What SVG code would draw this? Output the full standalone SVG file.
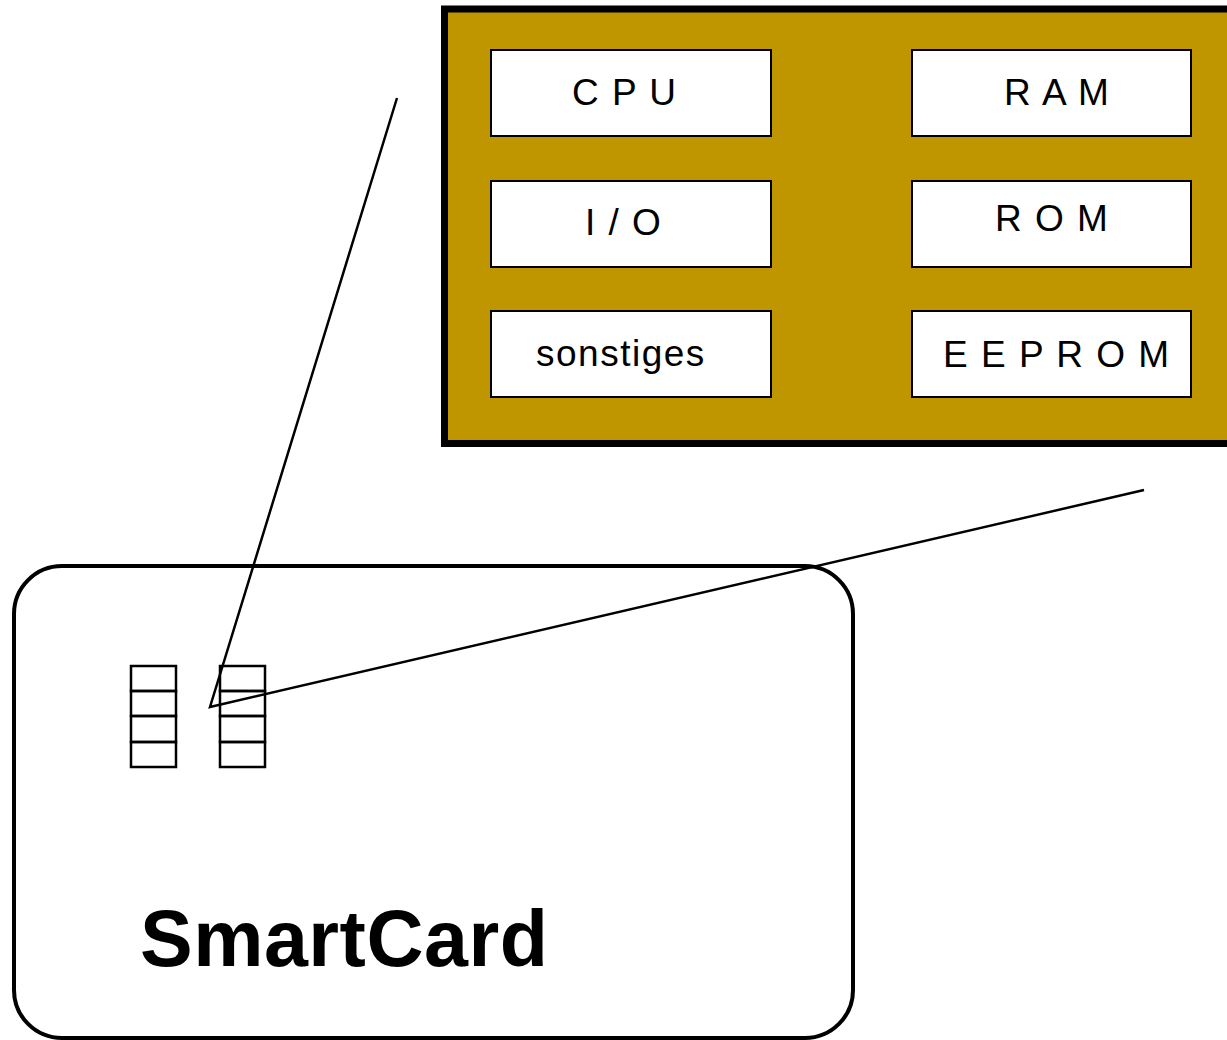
<svg xmlns="http://www.w3.org/2000/svg" width="1227" height="1040" viewBox="0 0 1227 1040">
<style>
.box{fill:#fff;stroke:#000;stroke-width:2}
.lbl{font-family:"Liberation Sans",Arial,sans-serif;font-size:37px;fill:#000;letter-spacing:1.5px}
.pad{fill:none;stroke:#000;stroke-width:2.5}
.con{fill:none;stroke:#000;stroke-width:2.5}
</style>
<rect width="1227" height="1040" fill="#fff"/>
<g id="card">
<rect x="14" y="566" width="839" height="472" rx="48" ry="48" fill="#fff" stroke="#000" stroke-width="4"/>
<text x="140" y="966" font-family="'Liberation Sans',Arial,sans-serif" font-size="79" font-weight="bold" letter-spacing="0.5">SmartCard</text>
</g>
<g id="contacts">
<rect class="pad" x="131" y="666" width="45" height="25"/>
<rect class="pad" x="131" y="691" width="45" height="25"/>
<rect class="pad" x="131" y="716" width="45" height="26"/>
<rect class="pad" x="131" y="742" width="45" height="25"/>
<rect class="pad" x="220" y="666" width="45" height="25"/>
<rect class="pad" x="220" y="691" width="45" height="25"/>
<rect class="pad" x="220" y="716" width="45" height="26"/>
<rect class="pad" x="220" y="742" width="45" height="25"/>
</g>
<g id="chip">
<rect x="444.5" y="9" width="800" height="434.5" fill="#C09600" stroke="#000" stroke-width="7"/>
</g>
<g id="cpu"><rect class="box" x="491" y="50" width="280" height="86"/><text class="lbl" x="572" y="105">C P U</text></g>
<g id="ram"><rect class="box" x="912" y="50" width="279" height="86"/><text class="lbl" x="1004" y="105">R A M</text></g>
<g id="io"><rect class="box" x="491" y="181" width="280" height="86"/><text class="lbl" x="585" y="235">I / O</text></g>
<g id="rom"><rect class="box" x="912" y="181" width="279" height="86"/><text class="lbl" x="995" y="231">R O M</text></g>
<g id="sonstiges"><rect class="box" x="491" y="311" width="280" height="86"/><text class="lbl" x="536" y="366">sonstiges</text></g>
<g id="eeprom"><rect class="box" x="912" y="311" width="279" height="86"/><text class="lbl" x="943" y="367">E E P R O M</text></g>
<g id="connectors">
<polyline class="con" points="397,98 210,707 1144,490"/>
</g>
</svg>
